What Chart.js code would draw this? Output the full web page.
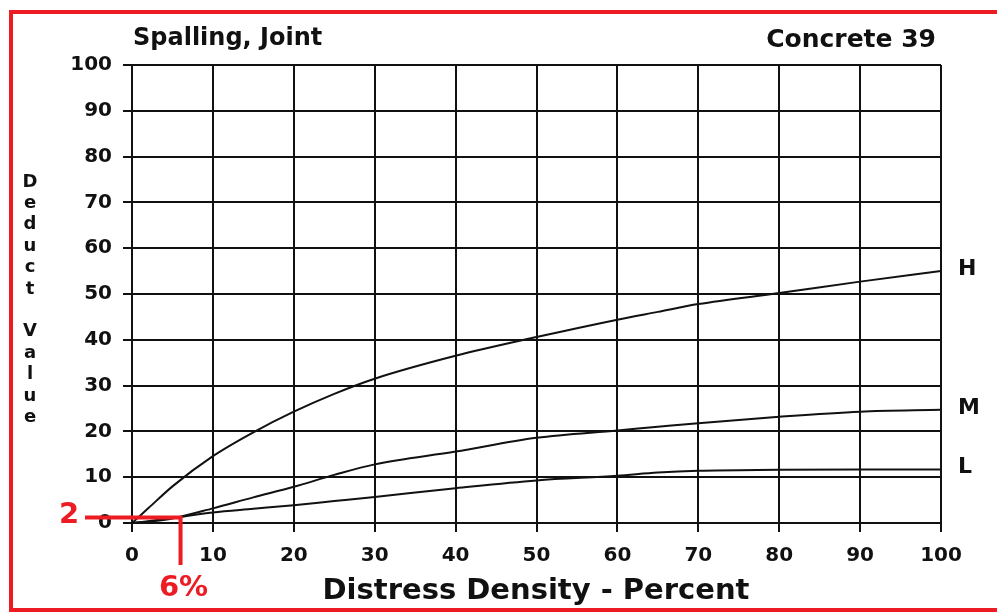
<!DOCTYPE html>
<html>
<head>
<meta charset="utf-8">
<script src="https://cdn.jsdelivr.net/npm/chart.js@4"></script>
<style>
  html, body { margin: 0; padding: 0; background: #fff; }
  #wrap { width: 997px; height: 613px; }
</style>
</head>
<body>
<div id="wrap"><canvas id="chart_spalling" width="997" height="613"></canvas></div>
<script>
const density = [0, 2, 5, 10, 15, 20, 25, 30, 40, 50, 60, 65, 70, 80, 90, 100];
const highValues = [0, 3.2, 8, 14.6, 19.8, 24.3, 28.2, 31.5, 36.5, 40.6, 44.4, 46.1, 47.8, 50.2, 52.7, 55];
const mediumValues = [0, 0.3, 1.0, 3.2, 5.6, 7.9, 10.5, 12.8, 15.6, 18.6, 20.2, 21.0, 21.8, 23.2, 24.3, 24.7];
const lowValues = [0, 0.4, 1.1, 2.3, 3.1, 3.9, 4.8, 5.7, 7.6, 9.3, 10.3, 11.0, 11.4, 11.6, 11.7, 11.7];
const severity = ["H", "M", "L"];
const yTicks = [0, 10, 20, 30, 40, 50, 60, 70, 80, 90, 100];

// example reading marked in red on the original
const markDensity = 6;
const markDeduct = 1.2;
const markLabels = ["2", "6%"];

const red = "rgb(237, 28, 36)";
const font = "'DejaVu Sans', sans-serif";

function points(values) {
    return density.map((x, i) => ({ x: x, y: values[i] }));
}

function curve(label, values) {
    return {
        label: label,
        data: points(values),
        borderColor: "#111",
        borderWidth: 2,
        pointRadius: 0,
        fill: false,
        cubicInterpolationMode: "monotone",
    };
}

const data = {
    datasets: [
        curve("H", highValues),
        curve("M", mediumValues),
        curve("L", lowValues),
    ],
};

const decorations = {
    id: "decorations",
    beforeDraw(chart) {
        const ctx = chart.ctx;
        ctx.save();
        ctx.fillStyle = "#fff";
        ctx.fillRect(0, 0, chart.width, chart.height);
        ctx.strokeStyle = red;
        ctx.lineWidth = 4;
        ctx.strokeRect(11, 12, chart.width + 20, 598);
        ctx.restore();
    },
    afterDraw(chart) {
        const ctx = chart.ctx;
        const xs = chart.scales.x;
        const ys = chart.scales.y;
        const area = chart.chartArea;
        ctx.save();
        ctx.fillStyle = "#111";
        ctx.textBaseline = "alphabetic";

        ctx.font = "bold 24px " + font;
        ctx.textAlign = "left";
        ctx.fillText("Spalling, Joint", area.left + 1, 45);
        ctx.font = "bold 25px " + font;
        ctx.textAlign = "right";
        ctx.fillText("Concrete 39", area.right - 5, 47);

        ctx.font = "bold 29px " + font;
        ctx.textAlign = "center";
        ctx.fillText("Distress Density - Percent", 536, 599);

        // stacked vertical axis title
        const letters = "Deduct Value".split("");
        ctx.font = "bold 18px " + font;
        ctx.textBaseline = "middle";
        letters.forEach((ch, i) => {
            ctx.fillText(ch, 30, 182 + i * 21.4);
        });

        // severity labels at the end of each curve
        ctx.font = "bold 22px " + font;
        ctx.textAlign = "left";
        chart.data.datasets.forEach((ds, i) => {
            const last = ds.data[ds.data.length - 1];
            ctx.fillText(severity[i], area.right + 17, ys.getPixelForValue(last.y) - 2);
        });

        // red reading lines
        const px = xs.getPixelForValue(markDensity);
        const py = ys.getPixelForValue(markDeduct);
        ctx.strokeStyle = red;
        ctx.lineWidth = 4;
        ctx.beginPath();
        ctx.moveTo(area.left - 47, py);
        ctx.lineTo(px + 2, py);
        ctx.moveTo(px, py);
        ctx.lineTo(px, area.bottom + 42);
        ctx.stroke();
        ctx.fillStyle = red;
        ctx.font = "bold 29px " + font;
        ctx.textAlign = "center";
        ctx.fillText(markLabels[0], 69, py - 2);
        ctx.fillText(markLabels[1], px + 3, area.bottom + 65);
        ctx.restore();
    },
};

const config = {
    type: "line",
    data: data,
    options: {
        responsive: false,
        animation: false,
        devicePixelRatio: 1,
        layout: {
            padding: { top: 65, right: 56, left: 0, bottom: 0 },
        },
        plugins: {
            legend: { display: false },
            tooltip: { enabled: false },
        },
        scales: {
            x: {
                type: "linear",
                min: 0,
                max: 100,
                afterFit(scale) {
                    scale.height = 90;
                },
                ticks: {
                    stepSize: 10,
                    color: "#111",
                    padding: 12,
                    font: { family: font, size: 20, weight: "bold" },
                },
                grid: { color: "#111", lineWidth: 2, tickLength: 9 },
                border: { color: "#111", width: 2 },
            },
            y: {
                type: "linear",
                min: 0,
                max: 100,
                afterFit(scale) {
                    scale.width = 132;
                },
                afterBuildTicks(scale) {
                    scale.ticks = yTicks.map((v) => ({ value: v }));
                },
                ticks: {
                    color: "#111",
                    padding: 11,
                    font: { family: font, size: 20, weight: "bold" },
                },
                grid: { color: "#111", lineWidth: 2, tickLength: 9 },
                border: { color: "#111", width: 2 },
            },
        },
    },
    plugins: [decorations],
};

const ctxSpalling = document.getElementById("chart_spalling");
const spallingChart = new Chart(ctxSpalling, config);
</script>
</body>
</html>
